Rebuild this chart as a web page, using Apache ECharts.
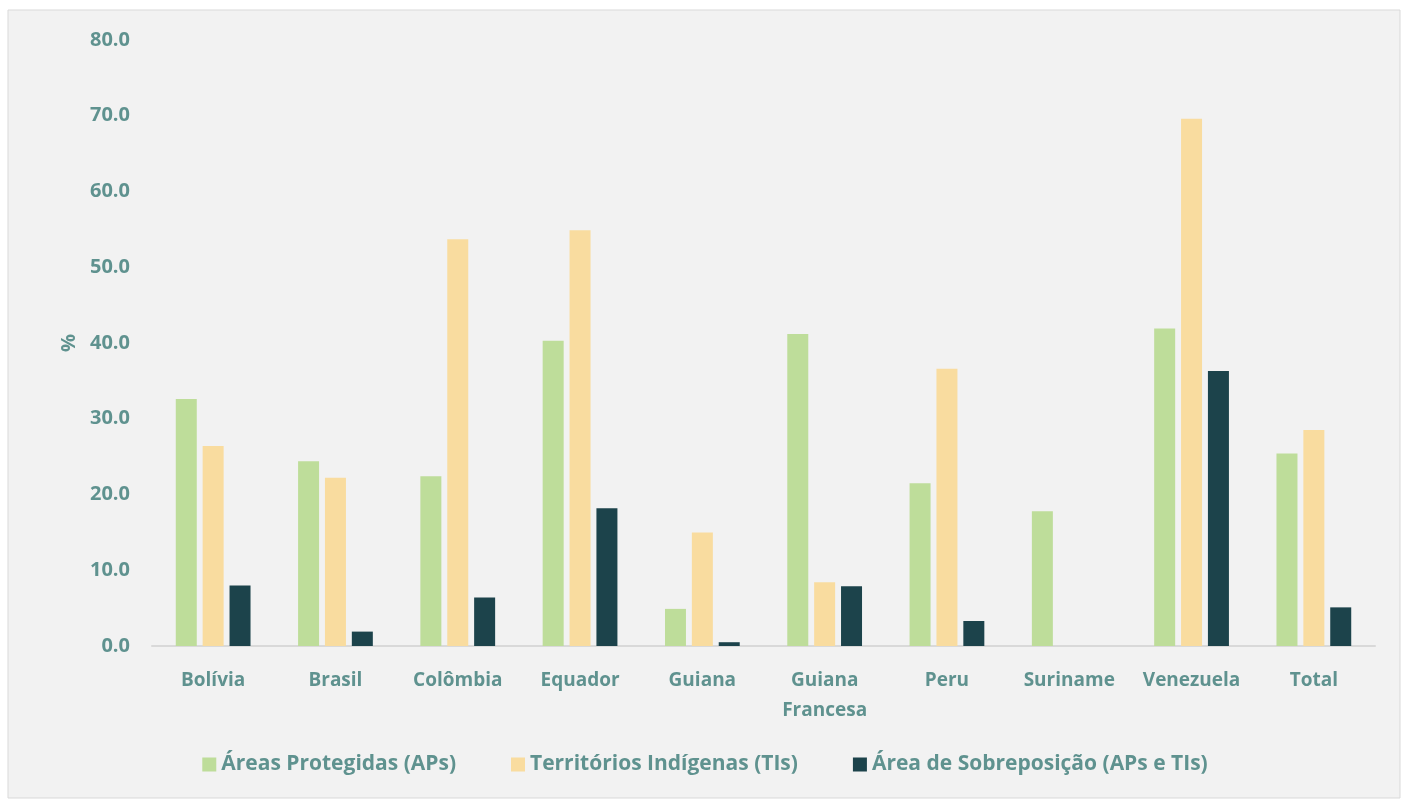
<!DOCTYPE html>
<html>
<head>
<meta charset="utf-8">
<script src="https://cdn.jsdelivr.net/npm/echarts@6/dist/echarts.min.js"></script>
<style>
html,body{margin:0;padding:0;background:#fff;}
#chart{width:1410px;height:800px;}
</style>
</head>
<body>
<div id="chart"></div>
<script>
// categorias e valores (%)
var paises = ['Bolívia', 'Brasil', 'Colômbia', 'Equador', 'Guiana', 'Guiana\nFrancesa', 'Peru', 'Suriname', 'Venezuela', 'Total'];
var areasProtegidas = [32.6, 24.4, 22.4, 40.3, 4.9, 41.2, 21.5, 17.8, 41.9, 25.4];
var territoriosIndigenas = [26.4, 22.2, 53.7, 54.9, 15.0, 8.4, 36.6, 0, 69.6, 28.5];
var sobreposicao = [8.0, 1.9, 6.4, 18.2, 0.5, 7.9, 3.3, 0, 36.3, 5.1];
var nomes = ['Áreas Protegidas (APs)', 'Territórios Indígenas (TIs)', 'Área de Sobreposição (APs e TIs)'];

var corTexto = '#5f928f';
var fonte = '"Open Sans", Lato, sans-serif';

var myChart = echarts.init(document.getElementById('chart'));

var serie = function(nome, dados, cor){
    return {
        name: nome,
        type: 'bar',
        data: dados,
        barWidth: 21,
        barGap: '28%',
        itemStyle: {color: cor}
    };
}

var option = {
    backgroundColor: '#fff',
    animation: false,
    graphic: [{
        type: 'rect',
        shape: {x: 8, y: 10, width: 1392, height: 788},
        style: {fill: '#f2f2f2', stroke: '#d9d9d9', lineWidth: 1},
        z: -10
    }],
    grid: {left: 152, right: 35, top: 40, bottom: 154},
    legend: {
        data: nomes,
        bottom: 20,
        left: 'center',
        itemWidth: 14,
        itemHeight: 14,
        itemGap: 55,
        icon: 'rect',
        textStyle: {color: corTexto, fontSize: 21, fontWeight: 'bold', fontFamily: fonte}
    },
    xAxis: {
        type: 'category',
        data: paises,
        axisLine: {lineStyle: {color: '#d9d9d9', width: 2}},
        axisTick: {show: false},
        axisLabel: {interval: 0, color: corTexto, fontSize: 19, fontWeight: 'bold', fontFamily: fonte, margin: 20, lineHeight: 30}
    },
    yAxis: {
        type: 'value',
        min: 0,
        max: 80,
        interval: 10,
        name: '%',
        nameLocation: 'middle',
        nameGap: 72,
        nameTextStyle: {color: corTexto, fontSize: 20, fontWeight: 'bold', fontFamily: fonte},
        axisLine: {show: false},
        axisTick: {show: false},
        splitLine: {show: false},
        axisLabel: {
            color: corTexto, fontSize: 20, fontWeight: 'bold', fontFamily: fonte, margin: 22,
            formatter: function(v){ return v.toFixed(1); }
        }
    },
    series: [
        serie(nomes[0], areasProtegidas, '#bedd9a'),
        serie(nomes[1], territoriosIndigenas, '#f9dc9f'),
        serie(nomes[2], sobreposicao, '#1c434b')
    ]
};

myChart.setOption(option);
</script>
</body>
</html>
